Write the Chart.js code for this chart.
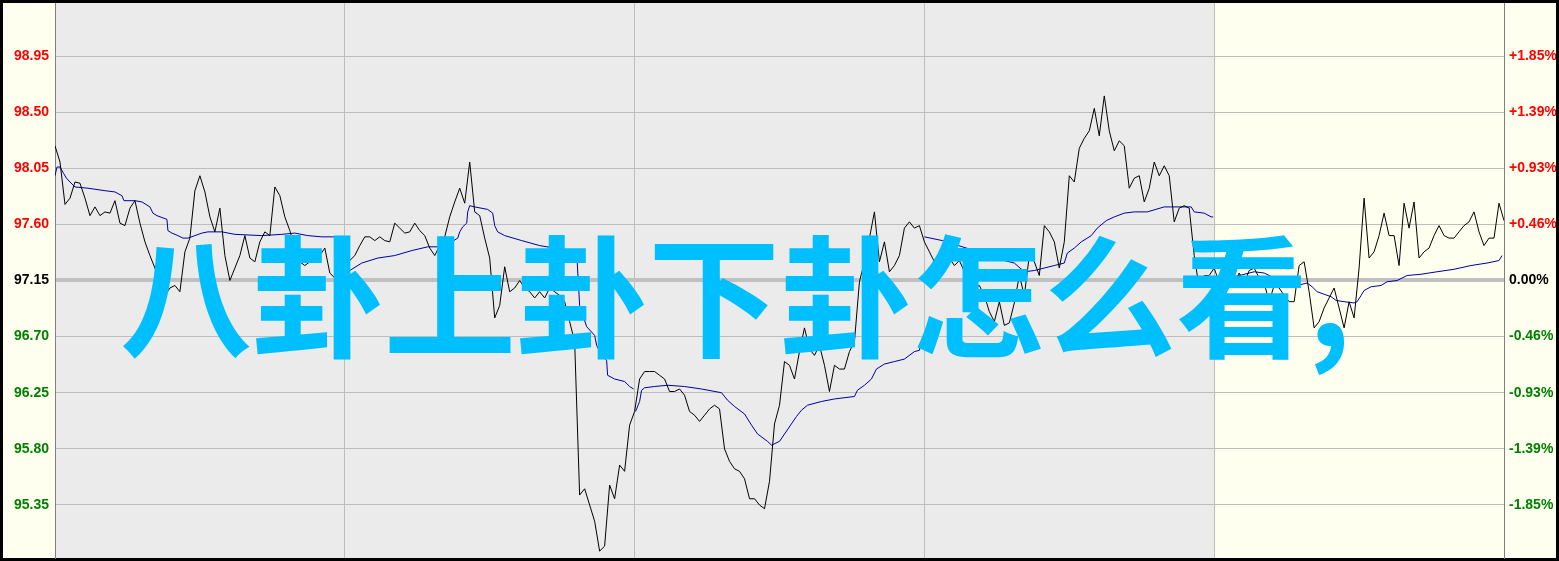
<!DOCTYPE html>
<html>
<head>
<meta charset="utf-8">
<script src="https://cdn.jsdelivr.net/npm/chart.js@4.4.1/dist/chart.umd.min.js"></script>
<style>
  html, body { margin:0; padding:0; background:#000; }
  #wrap { position:relative; width:1559px; height:561px; }
  #title {
    position:absolute; left:120px; top:224px;
    font-family:"Noto Sans CJK SC", sans-serif; font-weight:700;
    font-size:132px; line-height:1; color:#00bfff; white-space:nowrap;
    pointer-events:none;
  }
</style>
</head>
<body>
<div id="wrap">
  <canvas id="chart" width="1559" height="561"></canvas>
  <div id="title">八卦上卦下卦怎么看,</div>
</div>
<script>
// price ticks (left) and % change ticks (right)
const tickValues = [95.35, 95.80, 96.25, 96.70, 97.15, 97.60, 98.05, 98.50, 98.95];
const pctLabels = ['-1.85%', '-1.39%', '-0.93%', '-0.46%', '0.00%', '+0.46%', '+0.93%', '+1.39%', '+1.85%'];
const baseValue = 97.15;

// 5 sessions, 58 samples each, last session starts at 232
const sessionStarts = [0, 58, 116, 174, 232, 290];
const lastSessionStart = 232;

// price, one value per sample
const priceVals = [
  98.23, 98.10, 97.76, 97.81, 97.94, 97.93, 97.81, 97.67, 97.74, 97.67,
  97.70, 97.69, 97.79, 97.61, 97.59, 97.73, 97.79, 97.61, 97.46, 97.35,
  97.25, 97.11, 97.03, 97.09, 97.11, 97.06, 97.38, 97.49, 97.87, 97.99,
  97.86, 97.66, 97.54, 97.73, 97.35, 97.15, 97.25, 97.35, 97.51, 97.33,
  97.30, 97.46, 97.54, 97.51, 97.90, 97.83, 97.66, 97.55, 97.41, 97.30,
  97.27, 97.30, 97.33, 97.35, 97.41, 97.21, 97.17, 97.25, 97.30, 97.31,
  97.35, 97.43, 97.50, 97.50, 97.47, 97.50, 97.47, 97.46, 97.61, 97.57,
  97.53, 97.54, 97.61, 97.55, 97.51, 97.41, 97.35, 97.43, 97.50, 97.66,
  97.78, 97.89, 97.77, 98.10, 97.70, 97.67, 97.49, 97.33, 96.85, 96.95,
  97.26, 97.06, 97.09, 97.15, 97.09, 97.06, 97.01, 97.06, 97.01, 97.09,
  97.06, 97.03, 96.98, 96.82, 96.66, 95.43, 95.48, 95.35, 95.22, 94.98,
  95.02, 95.51, 95.40, 95.67, 95.62, 95.99, 96.10, 96.36, 96.42, 96.42,
  96.42, 96.39, 96.36, 96.26, 96.26, 96.28, 96.23, 96.10, 96.07, 96.02,
  96.07, 96.12, 96.15, 96.12, 95.80, 95.70, 95.64, 95.62, 95.56, 95.40,
  95.40, 95.35, 95.32, 95.54, 96.00, 96.15, 96.50, 96.47, 96.36, 96.58,
  96.77, 96.60, 96.55, 96.63, 96.47, 96.26, 96.47, 96.44, 96.44, 96.58,
  96.66, 97.14, 97.30, 97.49, 97.70, 97.30, 97.46, 97.22, 97.27, 97.35,
  97.57, 97.62, 97.57, 97.59, 97.46, 97.38, 97.30, 97.25, 97.25, 97.33,
  97.27, 97.31, 97.22, 97.14, 97.09, 97.11, 97.03, 96.90, 96.82, 96.98,
  96.79, 96.81, 96.97, 97.19, 97.03, 97.35, 97.30, 97.19, 97.59, 97.54,
  97.46, 97.25, 97.46, 97.99, 97.94, 98.21, 98.29, 98.35, 98.53, 98.31,
  98.63, 98.35, 98.19, 98.27, 98.23, 97.89, 97.97, 97.99, 97.78, 97.89,
  98.10, 97.99, 98.07, 97.99, 97.62, 97.73, 97.75, 97.73, 97.35, 97.09,
  97.19, 97.19, 97.25, 97.13, 97.05, 97.17, 97.09, 97.21, 97.13, 97.23,
  97.25, 97.17, 97.13, 96.98, 97.11, 97.09, 97.03, 96.98, 96.98, 97.27,
  97.30, 97.06, 96.77, 96.82, 96.93, 97.01, 97.09, 96.93, 96.77, 96.98,
  96.85, 97.25, 97.81, 97.33, 97.38, 97.51, 97.69, 97.51, 97.51, 97.27,
  97.77, 97.57, 97.78, 97.33, 97.38, 97.41, 97.51, 97.59, 97.51, 97.49,
  97.49, 97.54, 97.59, 97.62, 97.70, 97.54, 97.43, 97.49, 97.49, 97.77,
  97.63
];

// session average line (sample position, value); null breaks a session
const avgPos = [
  0, 0.4, 1, 1.7, 2.3, 3, 4, 6.6, 10, 12, 13.4, 13.8, 16, 17.4, 19, 19.6, 20.4, 22.4, 22.6, 23.4,
  24.6, 25.6, 26.6, 28, 29.4, 30.6, 33.4, 36, 41.4, 45.4, 48, 50.6, 53.4, 55.6, 57.8, null,
  58.6, 61.4, 64.6, 68, 71.4, 74.6, 76.6, 79.4, 80.6, 81, 81.6, 82.4, 82.6, 83, 84, 86.6, 87.6,
  88, 88.6, 90, 93.4, 97, 104.4, 105, 106.4, 108, 108.4, 109.4, 110.4, 110.6, 112, 114, 115, 115.8, null,
  116.2, 117, 117.4, 118, 120, 122.6, 126, 129.4, 133.4, 134.6, 136, 138, 139.4, 140.6, 142.6, 143.4,
  145, 148.4, 149.4, 150.6, 153.4, 156, 160, 160.6, 162, 163.4, 164.4, 166, 168, 170, 172, 173, 173.4, null,
  174, 177.6, 184, 190, 192, 194, 196, 198, 200, 202, 202.6, 204, 205.4, 207.4, 208.6, 210.4, 212,
  214, 216, 218.6, 222, 225.4, 227.4, 228, 230, 231.4, 231.8, null,
  232.2, 236, 240, 242, 246.6, 248.6, 250.6, 251.6, 252.6, 254, 255.4, 256.4, 258, 260, 260.6, 261.4,
  262, 263.4, 265.4, 266.6, 268.6, 270.6, 273.4, 276.6, 280, 283.4, 286.6, 289, 289.6
];
const avgVals = [
  97.99, 98.06, 98.06, 98.01, 97.97, 97.94, 97.90, 97.89, 97.87, 97.86, 97.83, 97.79, 97.79, 97.78, 97.74, 97.69, 97.67, 97.64, 97.55, 97.53,
  97.51, 97.49, 97.49, 97.51, 97.53, 97.54, 97.54, 97.52, 97.51, 97.52, 97.53, 97.51, 97.50, 97.50, 97.50, null,
  97.22, 97.29, 97.33, 97.35, 97.39, 97.42, 97.42, 97.46, 97.49, 97.54, 97.58, 97.61, 97.70, 97.75, 97.74, 97.72, 97.69,
  97.59, 97.54, 97.51, 97.47, 97.43, 97.38, 96.95, 96.78, 96.71, 96.63, 96.55, 96.51, 96.39, 96.36, 96.34, 96.30, 96.28, null,
  96.10, 96.18, 96.27, 96.29, 96.30, 96.31, 96.30, 96.28, 96.25, 96.19, 96.14, 96.08, 95.99, 95.92, 95.86, 95.83,
  95.86, 96.06, 96.11, 96.15, 96.18, 96.20, 96.22, 96.27, 96.31, 96.36, 96.44, 96.48, 96.50, 96.52, 96.58, 96.59, 96.66, null,
  97.50, 97.47, 97.39, 97.31, 97.29, 97.22, 97.23, 97.25, 97.27, 97.29, 97.37, 97.41, 97.46, 97.51, 97.57, 97.63, 97.66,
  97.69, 97.70, 97.70, 97.74, 97.74, 97.74, 97.70, 97.69, 97.66, 97.66, null,
  97.13, 97.18, 97.22, 97.21, 97.12, 97.11, 97.13, 97.10, 97.06, 97.04, 97.02, 96.99, 96.98, 96.97, 96.98, 97.03,
  97.07, 97.10, 97.11, 97.14, 97.15, 97.19, 97.20, 97.22, 97.24, 97.27, 97.29, 97.31, 97.35
];

const pricePts = priceVals.map((v, i) => ({ x: i, y: v }));
const avgPts = avgPos.map((p, i) => ({ x: p === null ? (avgPos[i - 1] + 0.2) : p, y: avgVals[i] }));

const tickColor = v => v > baseValue + 1e-6 ? '#ff0000' : (v < baseValue - 1e-6 ? '#008000' : '#000000');

// y axes: fixed width, no extra label padding above/below the plot
const fitY = s => { s.width = 52; s.paddingTop = 0; s.paddingBottom = 0; };

// backgrounds: black frame, cream margins, grey sessions, cream last session
const bgPlugin = {
  id: 'bg',
  beforeDraw(chart) {
    const { ctx, chartArea: a, scales } = chart;
    ctx.save();
    ctx.fillStyle = '#000';
    ctx.fillRect(0, 0, chart.width, chart.height);
    ctx.fillStyle = '#fffff0';
    ctx.fillRect(3, 3, chart.width - 6, chart.height - 6);
    const xs = scales.x.getPixelForValue(lastSessionStart);
    ctx.fillStyle = '#ebebeb';
    ctx.fillRect(a.left, a.top, xs - a.left, a.bottom - a.top);
    ctx.restore();
  }
};

new Chart(document.getElementById('chart'), {
  type: 'line',
  data: {
    datasets: [
      { label: 'price', data: pricePts, borderColor: '#000000', borderWidth: 1, pointRadius: 0, tension: 0 },
      { label: 'avg', data: avgPts, borderColor: '#0000a0', borderWidth: 1, pointRadius: 0, tension: 0, spanGaps: false }
    ]
  },
  options: {
    responsive: false,
    animation: false,
    parsing: false,
    layout: { padding: { top: 3, bottom: 3, left: 3, right: 3 } },
    plugins: { legend: { display: false }, tooltip: { enabled: false } },
    scales: {
      x: {
        type: 'linear', min: 0, max: 290,
        afterBuildTicks: s => { s.ticks = sessionStarts.map(v => ({ value: v })); },
        afterFit: s => { s.height = 0; s.paddingLeft = 0; s.paddingRight = 0; },
        ticks: { display: false },
        border: { display: false },
        grid: {
          drawTicks: false,
          color: c => (c.tick && (c.tick.value === 0 || c.tick.value === 290)) ? 'rgba(0,0,0,0)' : '#bdbdbd'
        }
      },
      y: {
        position: 'left', min: 94.925, max: 99.375,
        afterBuildTicks: s => { s.ticks = tickValues.map(v => ({ value: v })); },
        afterFit: fitY,
        border: { color: '#808080', width: 1 },
        grid: {
          drawTicks: false,
          color: c => Math.abs(c.tick.value - baseValue) < 1e-6 ? '#c0c0c0' : '#bdbdbd',
          lineWidth: c => Math.abs(c.tick.value - baseValue) < 1e-6 ? 4 : 1
        },
        ticks: {
          padding: 6,
          font: { family: '"Liberation Sans", Arial, sans-serif', size: 14, weight: 'bold' },
          color: c => tickColor(c.tick.value),
          callback: v => v.toFixed(2)
        }
      },
      y2: {
        position: 'right', min: 94.925, max: 99.375,
        afterBuildTicks: s => { s.ticks = tickValues.map(v => ({ value: v })); },
        afterFit: fitY,
        border: { color: '#808080', width: 1 },
        grid: { display: false, drawTicks: false },
        ticks: {
          padding: 5,
          font: { family: '"Liberation Sans", Arial, sans-serif', size: 14, weight: 'bold' },
          color: c => tickColor(c.tick.value),
          callback: (v, i) => pctLabels[i]
        }
      }
    }
  },
  plugins: [bgPlugin]
});
</script>
</body>
</html>
